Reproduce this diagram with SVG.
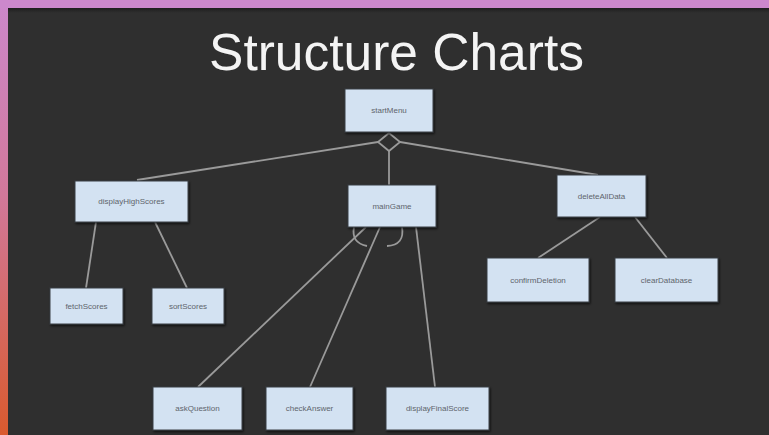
<svg xmlns="http://www.w3.org/2000/svg" width="769" height="435" viewBox="0 0 769 435">
  <defs>
    <linearGradient id="edge" x1="0" y1="0" x2="0" y2="1">
      <stop offset="0" stop-color="#cc88cc"/>
      <stop offset="0.45" stop-color="#d2789a"/>
      <stop offset="1" stop-color="#da5a2e"/>
    </linearGradient>
    <linearGradient id="topShade" x1="0" y1="0" x2="0" y2="1">
      <stop offset="0" stop-color="#1e1e1e"/>
      <stop offset="1" stop-color="#2f2f2f"/>
    </linearGradient>
    <filter id="shadow" x="-10%" y="-10%" width="130%" height="140%">
      <feDropShadow dx="1" dy="1.5" stdDeviation="1.2" flood-color="#000" flood-opacity="0.7"/>
    </filter>
  </defs>
  <style>
    .box { fill: #d3e2f2; stroke: #3a3f45; stroke-width: 1; filter: url(#shadow); }
    .lbl { font-family: "Liberation Sans", Arial, sans-serif; font-size: 8px; fill: #60656c; text-anchor: middle; dominant-baseline: central; }
    .link { fill: none; stroke: #9a9a9a; stroke-width: 1.8; }
    .title { font-family: "Liberation Sans", Arial, sans-serif; font-size: 51.5px; fill: #f4f4f4; text-anchor: middle; }
  </style>

  <!-- frame and backdrop -->
  <rect x="0" y="0" width="769" height="435" fill="url(#edge)"/>
  <rect x="0" y="0" width="769" height="8" fill="#cc88cc"/>
  <rect x="8" y="8" width="761" height="427" fill="#2f2f2f"/>
  <rect x="8" y="8" width="761" height="5" fill="url(#topShade)"/>

  <text class="title" x="396.5" y="70">Structure Charts</text>

  <!-- connectors -->
  <g id="connectors">
    <path class="link" d="M378 142 L137 180"/>
    <path class="link" d="M400 142 L598 175"/>
    <path class="link" d="M389 151 L389 185"/>
    <path class="link" d="M389 133 L400 142 L389 151 L378 142 Z"/>
    <path class="link" d="M96 222 L86 288"/>
    <path class="link" d="M155 222 L187 288"/>
    <path class="link" d="M600 217 L538 258"/>
    <path class="link" d="M635 217 L667 258"/>
    <path class="link" d="M366 227 L198 387"/>
    <path class="link" d="M380 227 L310 387"/>
    <path class="link" d="M416 227 L435 387"/>
    <!-- iteration arcs -->
    <path class="link" d="M354 227 Q351 243 367 246"/>
    <path class="link" d="M402 227 Q405 245 387 246"/>
  </g>

  <g id="startMenu">
    <rect class="box" x="345" y="89" width="88" height="43"/>
    <text class="lbl" x="389" y="110.5">startMenu</text>
  </g>
  <g id="displayHighScores">
    <rect class="box" x="75" y="181" width="113" height="41"/>
    <text class="lbl" x="131.5" y="201.5">displayHighScores</text>
  </g>
  <g id="mainGame">
    <rect class="box" x="348" y="185" width="88" height="42"/>
    <text class="lbl" x="392" y="206">mainGame</text>
  </g>
  <g id="deleteAllData">
    <rect class="box" x="557" y="175" width="89" height="42"/>
    <text class="lbl" x="601.5" y="196">deleteAllData</text>
  </g>
  <g id="fetchScores">
    <rect class="box" x="50" y="288" width="73" height="36"/>
    <text class="lbl" x="86.5" y="306">fetchScores</text>
  </g>
  <g id="sortScores">
    <rect class="box" x="152" y="288" width="72" height="36"/>
    <text class="lbl" x="188" y="306">sortScores</text>
  </g>
  <g id="confirmDeletion">
    <rect class="box" x="487" y="258" width="102" height="44"/>
    <text class="lbl" x="538" y="280">confirmDeletion</text>
  </g>
  <g id="clearDatabase">
    <rect class="box" x="615" y="258" width="103" height="44"/>
    <text class="lbl" x="666.5" y="280">clearDatabase</text>
  </g>
  <g id="askQuestion">
    <rect class="box" x="153" y="387" width="89" height="43"/>
    <text class="lbl" x="197.5" y="408.5">askQuestion</text>
  </g>
  <g id="checkAnswer">
    <rect class="box" x="266" y="387" width="87" height="43"/>
    <text class="lbl" x="309.5" y="408.5">checkAnswer</text>
  </g>
  <g id="displayFinalScore">
    <rect class="box" x="386" y="387" width="103" height="43"/>
    <text class="lbl" x="437.5" y="408.5">displayFinalScore</text>
  </g>
</svg>
